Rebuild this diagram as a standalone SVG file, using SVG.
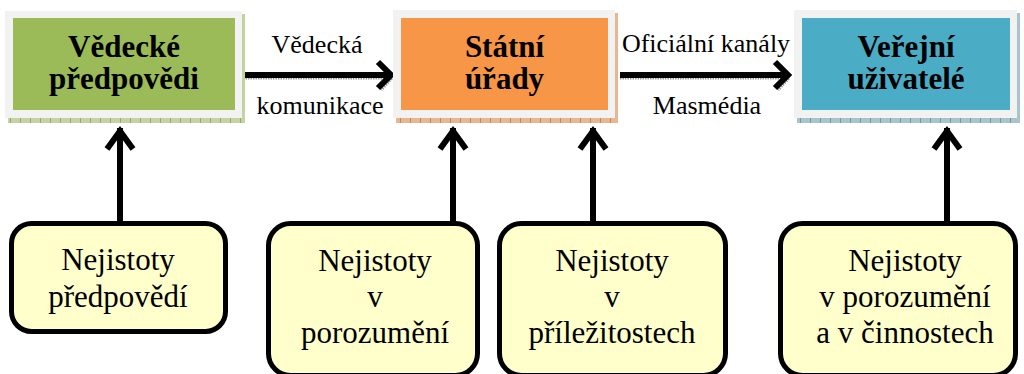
<svg xmlns="http://www.w3.org/2000/svg" width="1024" height="374" viewBox="0 0 1024 374">
<defs>
<pattern id="hg" width="10" height="10" patternUnits="userSpaceOnUse"><rect width="10" height="10" fill="#C5D3A2"/><line x1="0" y1="0" x2="0" y2="10" stroke="#6E8040" stroke-width="1"/></pattern>
<pattern id="ho" width="10" height="10" patternUnits="userSpaceOnUse"><rect width="10" height="10" fill="#E8B690"/><line x1="0" y1="0" x2="0" y2="10" stroke="#A0522D" stroke-width="1"/></pattern>
<pattern id="hb" width="10" height="10" patternUnits="userSpaceOnUse"><rect width="10" height="10" fill="#A9C5CC"/><line x1="0" y1="0" x2="0" y2="10" stroke="#3D6F7C" stroke-width="1"/></pattern>
</defs>
<style>
text{font-family:'Liberation Serif','DejaVu Serif',serif;fill:#000;text-anchor:middle}
.frame{fill:#F2F2F2}
.top{font-weight:bold;font-size:31px}
.lbl{font-size:26px}
.bot{font-size:31px}
.ubox{fill:#FFFFCC;stroke:#000;stroke-width:5}
.ln{stroke:#000;stroke-width:6;fill:none}
.hd{stroke:#000;stroke-width:6;fill:none;stroke-linecap:butt;stroke-linejoin:miter}
.sh{stroke:#9A9A9A;stroke-width:3;fill:none;stroke-dasharray:1.5 1}
</style>

<g id="connectors">
  <line class="sh" x1="243" y1="78" x2="389" y2="78"/>
  <polyline class="sh" points="381,65 392,78 381,90"/>
  <line class="ln" x1="243" y1="75" x2="390" y2="75"/>
  <polyline class="hd" points="378,62 391,75 378,88"/>

  <line class="sh" x1="620" y1="78" x2="786" y2="78"/>
  <polyline class="sh" points="778,65 789,78 778,90"/>
  <line class="ln" x1="620" y1="75" x2="787" y2="75"/>
  <polyline class="hd" points="775,62 788,75 775,88"/>

  <line class="ln" x1="120" y1="222" x2="120" y2="128"/>
  <polyline class="hd" points="107,149 120,131 133,149"/>
  <line class="ln" x1="453" y1="222" x2="453" y2="128"/>
  <polyline class="hd" points="440,149 453,131 466,149"/>
  <line class="ln" x1="593" y1="222" x2="593" y2="128"/>
  <polyline class="hd" points="580,149 593,131 606,149"/>
  <line class="ln" x1="947" y1="222" x2="947" y2="128"/>
  <polyline class="hd" points="934,149 947,131 960,149"/>
</g>

<g id="n1">
  <rect x="8" y="14" width="237" height="109" fill="url(#hg)"/>
  <rect class="frame" x="5" y="11" width="237" height="107"/>
  <rect x="13" y="18" width="222" height="92" fill="#9BBB59"/>
  <text class="top" x="124" y="57">Vědecké</text>
  <text class="top" x="124" y="89">předpovědi</text>
</g>

<g id="n2">
  <rect x="396" y="13" width="222" height="110" fill="url(#ho)"/>
  <rect class="frame" x="393" y="10" width="222" height="108"/>
  <rect x="401" y="18" width="207" height="92" fill="#F79646"/>
  <text class="top" x="504.5" y="57">Státní</text>
  <text class="top" x="504.5" y="89">úřady</text>
</g>

<g id="n3">
  <rect x="797" y="13" width="223" height="110" fill="url(#hb)"/>
  <rect class="frame" x="794" y="10" width="223" height="108"/>
  <rect x="802" y="18" width="208" height="92" fill="#4BACC6"/>
  <text class="top" x="906" y="57">Veřejní</text>
  <text class="top" x="906" y="89">uživatelé</text>
</g>

<g id="l1">
  <text class="lbl" x="317" y="53">Vědecká</text>
  <text class="lbl" x="320" y="114">komunikace</text>
</g>
<g id="l2">
  <text class="lbl" x="706" y="52">Oficiální kanály</text>
  <text class="lbl" x="707" y="114">Masmédia</text>
</g>

<g id="u1">
  <rect class="ubox" x="11.5" y="223.5" width="214" height="108" rx="20"/>
  <text class="bot" x="118" y="270">Nejistoty</text>
  <text class="bot" x="118" y="307">předpovědí</text>
</g>
<g id="u2">
  <rect class="ubox" x="268.5" y="223.5" width="209" height="152" rx="22"/>
  <text class="bot" x="375" y="271">Nejistoty</text>
  <text class="bot" x="375" y="307">v</text>
  <text class="bot" x="375" y="343">porozumění</text>
</g>
<g id="u3">
  <rect class="ubox" x="499.5" y="223.5" width="226" height="152" rx="22"/>
  <text class="bot" x="612" y="271">Nejistoty</text>
  <text class="bot" x="612" y="307">v</text>
  <text class="bot" x="612" y="343">příležitostech</text>
</g>
<g id="u4">
  <rect class="ubox" x="780.5" y="223.5" width="235" height="152" rx="22"/>
  <text class="bot" x="905" y="271">Nejistoty</text>
  <text class="bot" x="905" y="307">v porozumění</text>
  <text class="bot" x="905" y="343">a v činnostech</text>
</g>
</svg>
